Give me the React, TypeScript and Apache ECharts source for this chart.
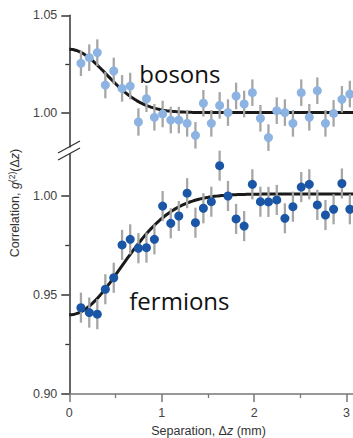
import React, { useEffect, useRef } from "react";
import * as echarts from "echarts";

// Separation positions (mm) shared by both data sets
const X_MM = [
  0.126, 0.216, 0.303, 0.39, 0.481, 0.571, 0.659, 0.748, 0.835, 0.921,
  1.01, 1.098, 1.185, 1.275, 1.365, 1.451, 1.537, 1.627, 1.717, 1.805,
  1.892, 1.981, 2.068, 2.155, 2.245, 2.333, 2.42, 2.51, 2.597, 2.684,
  2.772, 2.86, 2.95, 3.036,
];

const BOSON_G2 = [
  1.0254, 1.0283, 1.0309, 1.0143, 1.0215, 1.0126, 1.0138, 0.9954, 1.0073, 0.9978,
  0.9995, 0.9964, 0.9964, 0.9947, 0.9886, 1.005, 0.9947, 1.0039, 1.0002, 1.0087,
  1.0046, 1.0104, 0.9973, 0.9874, 1.0012, 1.0002, 0.9947, 1.0104, 0.9978, 1.0114,
  0.9947, 0.9998, 1.007, 1.0097,
];
const BOSON_ERR = [
  0.0065, 0.0068, 0.0068, 0.0068, 0.0068, 0.0068, 0.0068, 0.0070, 0.0068, 0.0068,
  0.0068, 0.0068, 0.0068, 0.0068, 0.0068, 0.0068, 0.0068, 0.0068, 0.0068, 0.0068,
  0.0068, 0.0068, 0.0068, 0.0068, 0.0068, 0.0068, 0.0068, 0.0068, 0.0068, 0.0068,
  0.0068, 0.0068, 0.0068, 0.0068,
];

const FERMION_G2 = [
  0.9436, 0.9411, 0.9403, 0.9529, 0.9587, 0.9753, 0.9781, 0.9736, 0.9739, 0.9781,
  0.9949, 0.9862, 0.9899, 1.0014, 0.9865, 0.9938, 0.9971, 1.0153, 1.0, 0.9884,
  0.9848, 1.0059, 0.9971, 0.997, 0.998, 0.9887, 0.9946, 1.0045, 1.0059, 0.9955,
  0.9904, 0.9933, 1.0063, 0.9933,
];
const FERMION_ERR = [
  0.0076, 0.0076, 0.0076, 0.0076, 0.0076, 0.0076, 0.0076, 0.0076, 0.0076, 0.0076,
  0.0076, 0.0076, 0.0076, 0.0076, 0.0076, 0.0076, 0.0076, 0.0076, 0.0076, 0.0076,
  0.0076, 0.0076, 0.0076, 0.0076, 0.0076, 0.0076, 0.0076, 0.0076, 0.0076, 0.0076,
  0.0076, 0.0076, 0.0076, 0.0076,
];

// Gaussian fit model parameters
const BOSON_FIT = { base: 1.0002, amp: 0.0324, sigma: 0.4 };
const FERMION_FIT = { base: 1.001, amp: -0.061, sigma: 0.56 };

const X_TICKS = [0, 1, 2, 3];
const X_MINOR = [0.5, 1.5, 2.5];
const Y_TICKS_TOP = [1.0, 1.05];
const Y_MINOR_TOP = [1.025];
const Y_TICKS_BOTTOM = [0.9, 0.95, 1.0];
const Y_MINOR_BOTTOM = [0.925, 0.975];

const X_MIN = 0;
const X_MAX = 3.07;
const TOP_MIN = 0.9826;
const TOP_MAX = 1.05;
const BOT_MIN = 0.9;
const BOT_MAX = 1.0212;

function fitCurve(p: { base: number; amp: number; sigma: number }) {
  const pts: number[][] = [];
  for (let i = 0; i <= 160; i++) {
    const x = (X_MAX * i) / 160;
    pts.push([x, p.base + p.amp * Math.exp(-(x * x) / (2 * p.sigma * p.sigma))]);
  }
  return pts;
}

const AXIS_COLOR = "#333";
const XAXIS_COLOR = "#777";
const LABEL_FONT = { fontSize: 12.5, color: "#444", fontFamily: "Liberation Sans" };

function majorY(grid: number, min: number, max: number, ticks: number[]) {
  return {
    type: "value",
    gridIndex: grid,
    min,
    max,
    axisLine: { show: true, onZero: false, lineStyle: { color: AXIS_COLOR, width: 1.5 } },
    axisTick: { show: true, customValues: ticks, length: 8, lineStyle: { color: AXIS_COLOR, width: 1.5 } },
    axisLabel: {
      show: true,
      customValues: ticks,
      formatter: (v: number) => v.toFixed(2),
      margin: 12,
      ...LABEL_FONT,
    },
    splitLine: { show: false },
  };
}

function minorY(grid: number, min: number, max: number, ticks: number[]) {
  return {
    type: "value",
    gridIndex: grid,
    min,
    max,
    position: "left",
    axisLine: { show: false, onZero: false },
    axisTick: { show: true, customValues: ticks, length: 4, lineStyle: { color: AXIS_COLOR, width: 1.3 } },
    axisLabel: { show: false },
    splitLine: { show: false },
  };
}

function errorSeries(xIdx: number, yIdx: number, ys: number[], errs: number[]) {
  return {
    type: "custom",
    xAxisIndex: xIdx,
    yAxisIndex: yIdx,
    z: 3,
    data: X_MM.map((x, i) => [x, ys[i], errs[i]]),
    encode: { x: 0, y: 1 },
    renderItem: (params: any, api: any) => {
      const x = api.value(0);
      const y = api.value(1);
      const e = api.value(2);
      const p1 = api.coord([x, y - e]);
      const p2 = api.coord([x, y + e]);
      return {
        type: "line",
        shape: { x1: p1[0], y1: p1[1], x2: p2[0], y2: p2[1] },
        style: { stroke: "#a6a6a6", lineWidth: 2.3 },
      };
    },
  };
}

export default function App() {
  const ref = useRef<HTMLDivElement>(null);
  useEffect(() => {
    if (!ref.current) return;
    const chart = echarts.init(ref.current, undefined, { renderer: "svg" });
    const option: any = {
      animation: false,
      backgroundColor: "#ffffff",
      grid: [
        { left: 69.3, right: 0, top: 15.3, height: 131.7 },
        { left: 69.3, right: 0, top: 154, height: 240 },
      ],
      xAxis: [
        { type: "value", gridIndex: 0, min: X_MIN, max: X_MAX, show: false },
        {
          type: "value",
          gridIndex: 1,
          min: X_MIN,
          max: X_MAX,
          axisLine: { show: true, onZero: false, lineStyle: { color: XAXIS_COLOR, width: 1.5 } },
          axisTick: { show: true, customValues: X_TICKS, length: 8, lineStyle: { color: XAXIS_COLOR, width: 1.5 } },
          axisLabel: { show: true, customValues: X_TICKS, margin: 12, ...LABEL_FONT },
          splitLine: { show: false },
        },
        {
          type: "value",
          gridIndex: 1,
          min: X_MIN,
          max: X_MAX,
          position: "bottom",
          axisLine: { show: false, onZero: false },
          axisTick: { show: true, customValues: X_MINOR, length: 4, lineStyle: { color: XAXIS_COLOR, width: 1.3 } },
          axisLabel: { show: false },
          splitLine: { show: false },
        },
      ],
      yAxis: [
        majorY(0, TOP_MIN, TOP_MAX, Y_TICKS_TOP),
        minorY(0, TOP_MIN, TOP_MAX, Y_MINOR_TOP),
        majorY(1, BOT_MIN, BOT_MAX, Y_TICKS_BOTTOM),
        minorY(1, BOT_MIN, BOT_MAX, Y_MINOR_BOTTOM),
      ],
      series: [
        {
          type: "line",
          xAxisIndex: 0,
          yAxisIndex: 0,
          data: fitCurve(BOSON_FIT),
          showSymbol: false,
          z: 2,
          lineStyle: { color: "#1a1a1a", width: 3 },
        },
        errorSeries(0, 0, BOSON_G2, BOSON_ERR),
        {
          type: "scatter",
          xAxisIndex: 0,
          yAxisIndex: 0,
          z: 4,
          symbolSize: 9,
          itemStyle: { color: "#8db3e2", opacity: 1 },
          data: X_MM.map((x, i) => [x, BOSON_G2[i]]),
        },
        {
          type: "line",
          xAxisIndex: 1,
          yAxisIndex: 2,
          data: fitCurve(FERMION_FIT),
          showSymbol: false,
          z: 2,
          lineStyle: { color: "#1a1a1a", width: 3 },
        },
        errorSeries(1, 2, FERMION_G2, FERMION_ERR),
        {
          type: "scatter",
          xAxisIndex: 1,
          yAxisIndex: 2,
          z: 4,
          symbolSize: 9,
          itemStyle: { color: "#1a56a5", opacity: 1 },
          data: X_MM.map((x, i) => [x, FERMION_G2[i]]),
        },
      ],
      graphic: [
        {
          type: "text",
          x: 139.3,
          y: 73.8,
          style: { text: "bosons", fontSize: 24, fontFamily: "Open Sans", fill: "#111", align: "left", verticalAlign: "middle" },
        },
        {
          type: "text",
          x: 129.3,
          y: 300.4,
          style: { text: "fermions", fontSize: 24, fontFamily: "Open Sans", fill: "#111", align: "left", verticalAlign: "middle" },
        },
        {
          type: "text",
          x: 208.5,
          y: 431,
          style: {
            text: "{n|Separation, Δ}{i|z}{n| (mm)}",
            align: "center",
            verticalAlign: "middle",
            rich: {
              n: { fontSize: 12.5, fontFamily: "Liberation Sans", fill: "#333" },
              i: { fontSize: 12.5, fontFamily: "Liberation Sans", fontStyle: "italic", fill: "#333" },
            },
          },
        },
        {
          type: "text",
          x: 15,
          y: 203,
          rotation: Math.PI / 2,
          style: {
            text: "{n|Correlation, }{i|g}{s|(2)}{n|(Δ}{i|z}{n|)}",
            align: "center",
            verticalAlign: "middle",
            rich: {
              n: { fontSize: 12.5, lineHeight: 15, fontFamily: "Liberation Sans", fill: "#333" },
              i: { fontSize: 12.5, lineHeight: 15, fontFamily: "Liberation Sans", fontStyle: "italic", fill: "#333" },
              s: { fontSize: 8.5, lineHeight: 10, verticalAlign: "top", fontFamily: "Liberation Sans", fill: "#333" },
            },
          },
        },
        {
          type: "line",
          shape: { x1: 58, y1: 153, x2: 80, y2: 141 },
          style: { stroke: AXIS_COLOR, lineWidth: 1.3 },
        },
        {
          type: "line",
          shape: { x1: 58, y1: 160, x2: 80, y2: 148 },
          style: { stroke: AXIS_COLOR, lineWidth: 1.3 },
        },
      ],
    };
    chart.setOption(option);
    return () => chart.dispose();
  }, []);
  return (
    <div
      ref={ref}
      style={{ position: "absolute", left: 0, top: 0, width: 353, height: 438 }}
    />
  );
}
